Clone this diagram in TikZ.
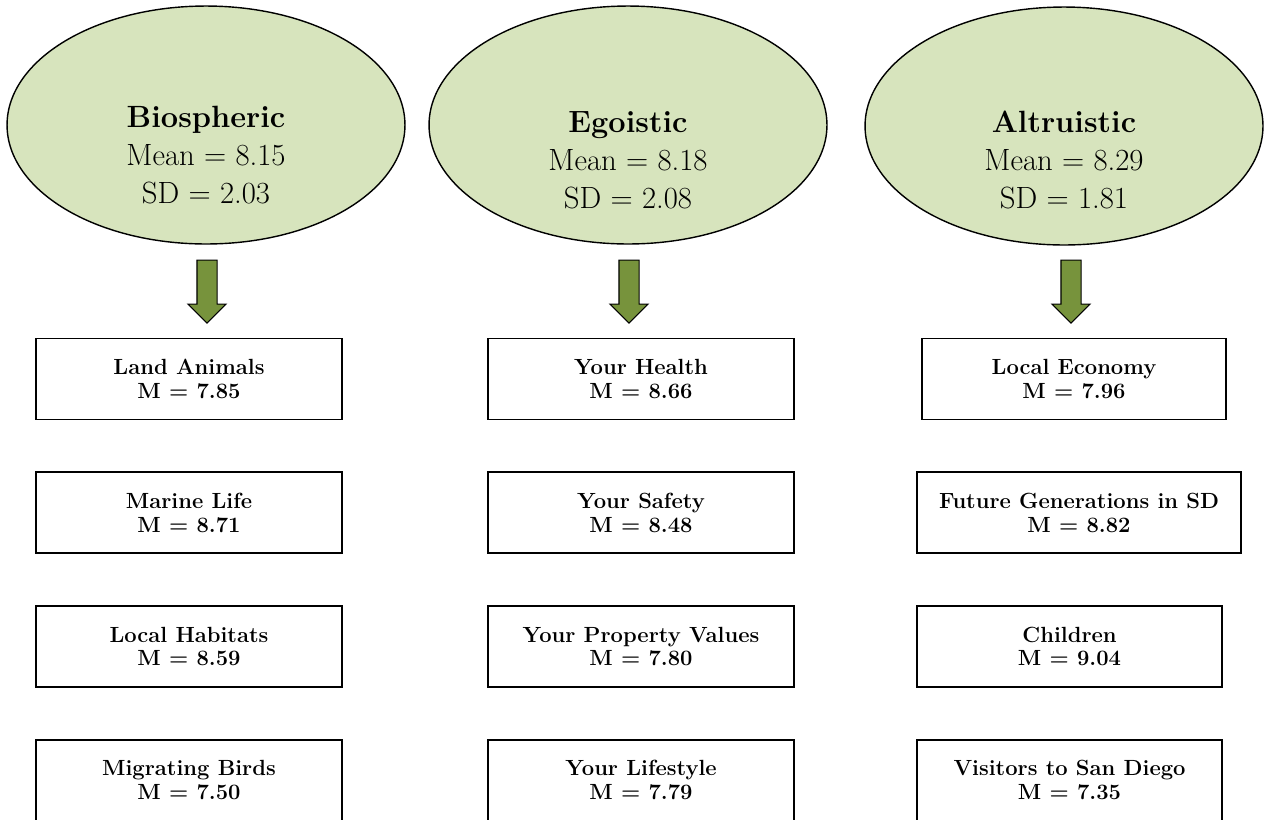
\documentclass[tikz,border=0pt]{standalone}
\usepackage{tikz}
\usetikzlibrary{positioning, shapes.geometric, shapes.arrows}
\usepackage{xcolor}
\definecolor{ovalgreen}{HTML}{D7E4BD}
\definecolor{arrowgreen}{HTML}{77933C}

\begin{document}
\begin{tikzpicture}[x=0.02cm, y=-0.02cm,
  valueoval/.style={ellipse, draw, fill=ovalgreen, line width=0.8pt, minimum width=7.96cm, minimum height=4.76cm},
  ovaltext/.style={align=center, font=\fontsize{17.5}{21.5}\selectfont},
  downarrow/.style={single arrow, draw, fill=arrowgreen, line width=0.6pt, shape border rotate=270,
    inner sep=0.19cm, minimum height=1.26cm, single arrow head extend=0.18cm, anchor=tail},
  itembox/.style={rectangle, draw, line width=1pt, align=center, minimum width=6.12cm, minimum height=1.62cm,
    font=\fontsize{12.5}{13.5}\selectfont\bfseries}]
\useasboundingbox (0,0) rectangle (1266,819);

% the three value orientations
\node[valueoval] (bio) at (206,125) {};
\node[ovaltext] (biotext) at (206,155) {\textbf{Biospheric}\\Mean = 8.15\\SD = 2.03};

\node[valueoval] (ego) at (628,125) {};
\node[ovaltext] (egotext) at (628,160) {\textbf{Egoistic}\\Mean = 8.18\\SD = 2.08};

\node[valueoval] (alt) at (1064,126) {};
\node[ovaltext] (alttext) at (1064,160) {\textbf{Altruistic}\\Mean = 8.29\\SD = 1.81};

% block arrows
\node[downarrow] (bioarrow) at ([xshift=0.02cm, yshift=-0.3cm]bio.south) {};
\node[downarrow] (egoarrow) at ([xshift=0.02cm, yshift=-0.3cm]ego.south) {};
\node[downarrow] (altarrow) at ([xshift=0.14cm, yshift=-0.28cm]alt.south) {};

% biospheric items
\node[itembox] (land) at (189,379) {Land Animals\\M = 7.85};
\node[itembox] (marine) [below=1.02cm of land] {Marine Life\\M = 8.71};
\node[itembox] (habitat) [below=1.02cm of marine] {Local Habitats\\M = 8.59};
\node[itembox] (birds) [below=1.02cm of habitat] {Migrating Birds\\M = 7.50};

% egoistic items
\node[itembox] (health) at (641,379) {Your Health\\M = 8.66};
\node[itembox] (safety) [below=1.02cm of health] {Your Safety\\M = 8.48};
\node[itembox] (property) [below=1.02cm of safety] {Your Property Values\\M = 7.80};
\node[itembox] (lifestyle) [below=1.02cm of property] {Your Lifestyle\\M = 7.79};

% altruistic items
\node[itembox, minimum width=6.08cm] (economy) at (1074,379) {Local Economy\\M = 7.96};
\node[itembox, minimum width=6.48cm] (future) [below=1.02cm of economy, xshift=0.1cm] {Future Generations in SD\\M = 8.82};
\node[itembox, minimum width=6.1cm] (children) [below=1.02cm of future, xshift=-0.19cm] {Children\\M = 9.04};
\node[itembox, minimum width=6.1cm] (visitors) [below=1.02cm of children] {Visitors to San Diego\\M = 7.35};

\end{tikzpicture}
\end{document}
